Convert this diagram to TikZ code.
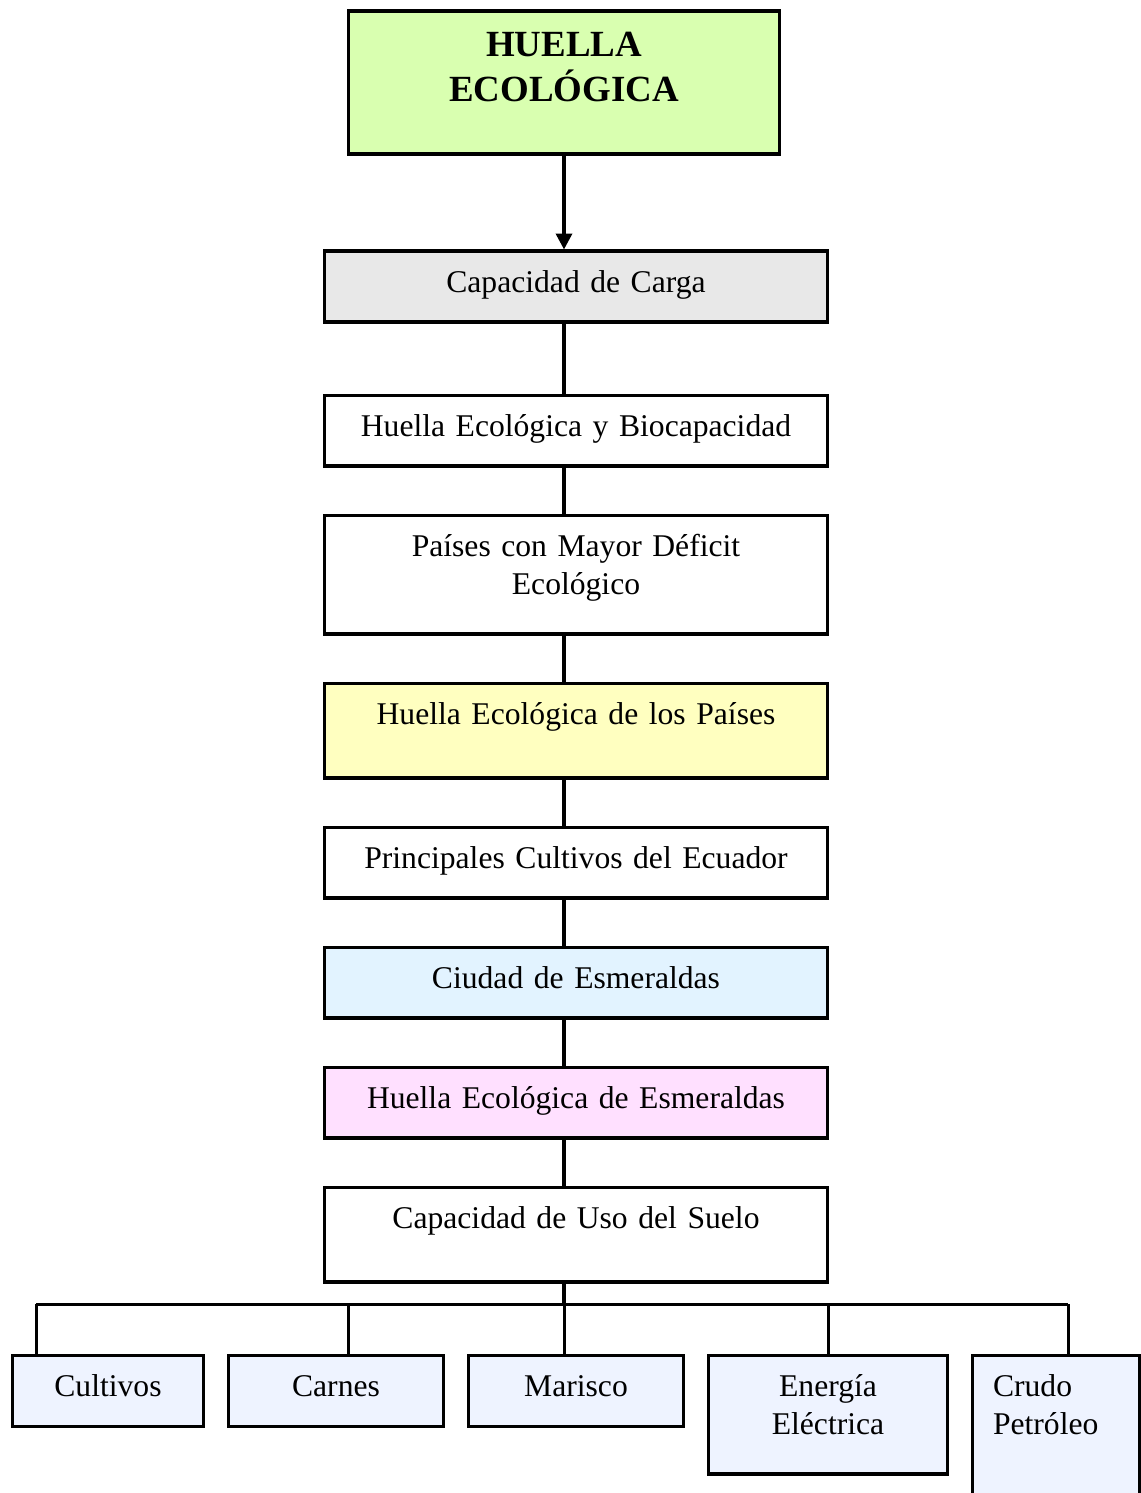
\documentclass[tikz,border=0pt]{standalone}
\usepackage{fontspec}
\setmainfont{Liberation Serif}
\usetikzlibrary{arrows.meta}
\definecolor{verdetit}{RGB}{217,255,176}
\definecolor{grisbox}{RGB}{232,232,232}
\definecolor{amarbox}{RGB}{255,255,192}
\definecolor{celebox}{RGB}{226,243,255}
\definecolor{rosabox}{RGB}{255,224,255}
\definecolor{azulbox}{RGB}{238,243,255}
\tikzset{
  caja/.style={draw, line width=0.075cm, inner sep=0pt, anchor=north, align=center,
    text height=0.83cm, text depth=0.59cm, font=\fontsize{18}{21.6}\selectfont},
  central/.style={caja, text width=10.06cm},
  linea/.style={line width=0.07cm},
  ramal/.style={line width=0.06cm}
}
\begin{document}
\begin{tikzpicture}[x=0.02cm, y=-0.02cm]
            \useasboundingbox (0,0) rectangle (1141,1493);

            \node[caja, fill=verdetit, text width=8.62cm, text height=0.91cm, text depth=1.95cm,
                  font=\bfseries\fontsize{21}{25.3}\selectfont] (titulo) at (564,9.5) {HUELLA\\ECOLÓGICA};
            \node[central, fill=grisbox] (carga) at (576,249.5) {Capacidad de Carga};
            \node[central] (biocap) at (576,393.5) {Huella Ecológica y Biocapacidad};
            \node[central, text depth=1.55cm] (deficit) at (576,513.5) {Países con Mayor Déficit\\Ecológico};
            \node[central, fill=amarbox, text depth=1.07cm] (paises) at (576,681.5) {Huella Ecológica de los Países};
            \node[central] (cultivosec) at (576,825.5) {Principales Cultivos del Ecuador};
            \node[central, fill=celebox] (ciudad) at (576,945.5) {Ciudad de Esmeraldas};
            \node[central, fill=rosabox] (huellaesm) at (576,1065.5) {Huella Ecológica de Esmeraldas};
            \node[central, text depth=1.07cm] (suelo) at (576,1185.5) {Capacidad de Uso del Suelo};

            \node[caja, fill=azulbox, text width=3.82cm] (cultivos) at (108,1353.5) {Cultivos};
            \node[caja, fill=azulbox, text width=4.30cm] (carnes) at (336,1353.5) {Carnes};
            \node[caja, fill=azulbox, text width=4.30cm] (marisco) at (576,1353.5) {Marisco};
            \node[caja, fill=azulbox, text width=4.78cm, text depth=1.55cm] (energia) at (828,1353.5) {Energía\\Eléctrica};
            \node[caja, fill=azulbox, align=left, inner xsep=0.41cm, text width=2.52cm, text depth=2.30cm] (crudo) at (1056,1353.5) {Crudo\\Petróleo};

            \coordinate (b1) at (36,1304); \coordinate (b2) at (348,1304); \coordinate (b3) at (564,1304);
            \coordinate (b4) at (828,1304); \coordinate (b5) at (1068,1304);

            \draw[linea, -{Triangle[width=0.32cm, length=0.32cm]}] (titulo.south) to (carga.north -| titulo.south);
            \draw[linea] (carga.south -| titulo.south) to (biocap.north -| titulo.south);
            \draw[linea] (biocap.south -| titulo.south) to (deficit.north -| titulo.south);
            \draw[linea] (deficit.south -| titulo.south) to (paises.north -| titulo.south);
            \draw[linea] (paises.south -| titulo.south) to (cultivosec.north -| titulo.south);
            \draw[linea] (cultivosec.south -| titulo.south) to (ciudad.north -| titulo.south);
            \draw[linea] (ciudad.south -| titulo.south) to (huellaesm.north -| titulo.south);
            \draw[linea] (huellaesm.south -| titulo.south) to (suelo.north -| titulo.south);
            \draw[linea] (suelo.south -| titulo.south) to (b3);

            \draw[ramal] (b1) to (b5);
            \draw[ramal] (b1) to (b1 |- cultivos.north); \draw[ramal] (b2) to (b2 |- carnes.north);
            \draw[ramal] (b3) to (b3 |- marisco.north); \draw[ramal] (b4) to (b4 |- energia.north);
            \draw[ramal] (b5) to (b5 |- crudo.north);
        \end{tikzpicture}
\end{document}
